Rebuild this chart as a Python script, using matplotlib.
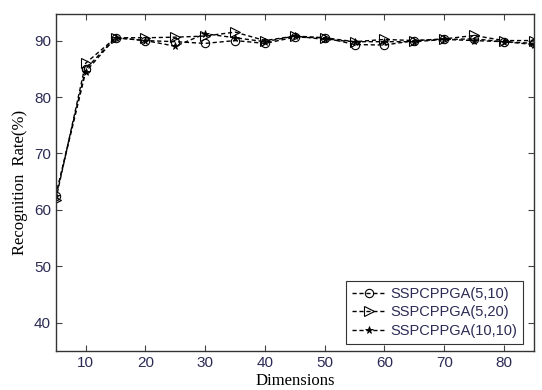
import numpy as np
import matplotlib
matplotlib.use("Agg")
import matplotlib.pyplot as plt

dims = [5, 10, 15, 20, 25, 30, 35, 40, 45, 50, 55, 60, 65, 70, 75, 80, 85]
rate_5_10 = [62.5, 85.0, 90.5, 90.0, 89.8, 89.5, 90.0, 89.5, 90.6, 90.5, 89.3, 89.2, 90.0, 90.2, 90.3, 89.8, 89.5]
rate_5_20 = [61.8, 86.0, 90.5, 90.5, 90.6, 90.8, 91.5, 90.0, 90.8, 90.5, 89.8, 90.2, 90.0, 90.3, 90.9, 90.0, 90.0]
rate_10_10 = [62.5, 84.5, 90.5, 90.0, 89.0, 91.2, 90.5, 89.8, 90.8, 90.2, 89.8, 89.8, 89.8, 90.2, 90.0, 89.8, 89.3]

labels = ['SSPCPPGA(5,10)', 'SSPCPPGA(5,20)', 'SSPCPPGA(10,10)']
tick_color = '#2b2b55'

fig = plt.figure(figsize=(5.42, 3.9), dpi=100)
ax = fig.add_axes([0.103, 0.1, 0.882, 0.864])

ls = (0, (3, 2))
ax.plot(dims, rate_5_10, linestyle=ls, color='k', lw=1.0, marker='o',
        markersize=6, markerfacecolor='none', markeredgewidth=0.8, label=labels[0])
ax.plot(dims, rate_5_20, linestyle=ls, color='k', lw=1.0, marker='>',
        markersize=7, markerfacecolor='none', markeredgewidth=0.8, label=labels[1])
ax.plot(dims, rate_10_10, linestyle=ls, color='k', lw=1.0, marker='*',
        markersize=5.5, markerfacecolor='k', markeredgewidth=0.6, label=labels[2])

ax.set_xlim(5, 85)
ax.set_ylim(35, 94.7)
ax.set_xticks(range(10, 81, 10))
ax.set_yticks(range(40, 91, 10))
ax.tick_params(direction='in', length=4, width=0.8, colors='#444444',
               labelcolor=tick_color, labelsize=11, top=True, right=True)
for lab in ax.get_xticklabels() + ax.get_yticklabels():
    lab.set_family('Liberation Sans')
for s in ax.spines.values():
    s.set_linewidth(1.0)
    s.set_color('#333333')

ax.set_xlabel('Dimensions', family='Liberation Serif', fontsize=12, labelpad=2)
ax.set_ylabel('Recognition  Rate(%)', family='Liberation Serif', fontsize=12, labelpad=4)

leg = ax.legend(loc='lower right', bbox_to_anchor=(0.978, 0.022), fancybox=False,
                edgecolor='#333333', framealpha=1, borderaxespad=0,
                prop={'family': 'Liberation Sans', 'size': 10.5},
                handlelength=2.3, handletextpad=0.35, labelspacing=0.3,
                borderpad=0.4)
leg.get_frame().set_linewidth(0.8)
for t in leg.get_texts():
    t.set_color(tick_color)

fig.savefig('out.png', dpi=100)
